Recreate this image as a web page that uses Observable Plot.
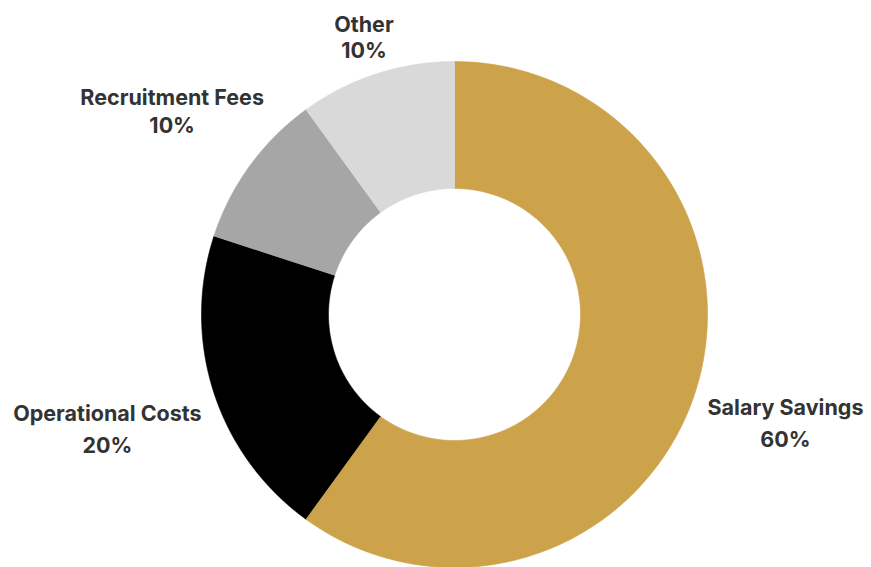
<!DOCTYPE html>
<html>
<head>
<meta charset="utf-8">
<script src="https://cdn.jsdelivr.net/npm/d3@7"></script>
<script src="https://cdn.jsdelivr.net/npm/@observablehq/plot@0.6"></script>
<style>
  html, body { margin: 0; padding: 0; background: #fff; }
  #chart svg { display: block; }
</style>
</head>
<body>
<div id="chart"></div>
<script>
// ---- data ----
const categories = ["Salary Savings", "Operational Costs", "Recruitment Fees", "Other"];
const values = [60, 20, 10, 10];
const percentLabels = ["60%", "20%", "10%", "10%"];
const colors = ["#cca34a", "#000000", "#a6a6a6", "#d9d9d9"];

// ---- layout (not data) ----
const W = 871, H = 567;
const cx = 454, cy = 314;
const outerR = 253, innerR = 126;
const labelRadius = [348, 365, 349, 293];
const lineGap = [32, 32, 28, 26];

const arcs = d3.pie().sort(null).value(d => d)(values);

const pts = [];
arcs.forEach((a, i) => {
  const n = 120;
  const ring = [];
  for (let k = 0; k <= n; k++) {
    const t = a.startAngle + (a.endAngle - a.startAngle) * k / n;
    ring.push({cat: categories[i], x: outerR * Math.sin(t), y: outerR * Math.cos(t)});
  }
  for (let k = n; k >= 0; k--) {
    const t = a.startAngle + (a.endAngle - a.startAngle) * k / n;
    ring.push({cat: categories[i], x: innerR * Math.sin(t), y: innerR * Math.cos(t)});
  }
  pts.push(...ring);
});

const labels = arcs.map((a, i) => {
  const m = (a.startAngle + a.endAngle) / 2;
  return {
    cat: categories[i],
    pct: percentLabels[i],
    x: labelRadius[i] * Math.sin(m),
    y: labelRadius[i] * Math.cos(m),
    gap: lineGap[i]
  };
});

const textStyle = {fontFamily: "Inter", fontWeight: 700, fontSize: 21.5, fill: "#333333", dy: 2.5};

const chart = Plot.plot({
  width: W,
  height: H,
  margin: 0,
  x: {domain: [-cx, W - cx], axis: null},
  y: {domain: [-(H - cy), cy], axis: null},
  color: {type: "ordinal", domain: categories, range: colors},
  marks: [
    Plot.line(pts, {x: "x", y: "y", z: "cat", fill: "cat", stroke: "cat", strokeWidth: 0.6}),
    Plot.text(labels, {x: "x", y: d => d.y + d.gap / 2, text: "cat", ...textStyle}),
    Plot.text(labels, {x: "x", y: d => d.y - d.gap / 2, text: "pct", ...textStyle})
  ]
});
document.getElementById("chart").appendChild(chart);
</script>
</body>
</html>
